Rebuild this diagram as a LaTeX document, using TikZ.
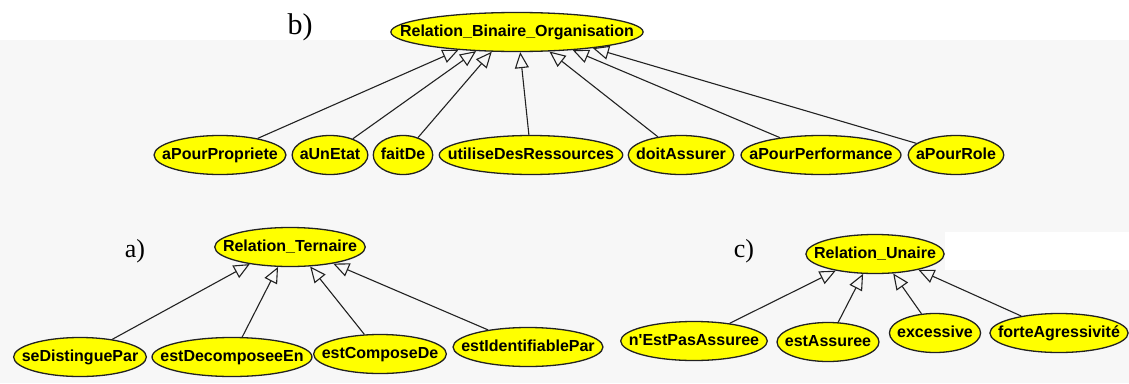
\documentclass[tikz,border=0pt]{standalone}
\usepackage{fontspec}
\setmainfont{Liberation Serif}
\newfontfamily\relfont{Liberation Sans}
\usetikzlibrary{arrows.meta,shapes.geometric}
\definecolor{Paper}{HTML}{F7F7F7}
\definecolor{Rel}{HTML}{FFFF00}
\definecolor{Ink}{HTML}{222222}
% shrink the box so the ellipse hugs the text
\newcommand{\rel}[1]{\makebox[.72\width]{#1}}

\begin{document}
\begin{tikzpicture}[x=1pt,y=-1pt,
    relnode/.style={ellipse,draw=Ink,line width=1.3pt,fill=Rel,inner xsep=5pt,inner ysep=0pt,
      minimum height=39pt,text height=11.5pt,text depth=3.5pt,font=\relfont\bfseries\fontsize{16}{19}\selectfont},
    isa/.style={-{Triangle[open,length=16pt,width=14pt,line width=1.1pt]},line width=1.1pt,Ink},
    tag/.style={font=\fontsize{26}{30}\selectfont}]
  % background
  \fill[Paper] (0,0) rectangle (1129,383);
  \fill[white] (0,0) rectangle (1129,40);
  \fill[white] (945,232) rectangle (1129,270);
  \useasboundingbox (0,0) rectangle (1129,383);

  % b) binary relations
  \node[tag,font=\fontsize{30}{34}\selectfont] (tagb) at (300,27) {b)};
  \node[relnode] (bin) at (517,32) {\rel{Relation\_Binaire\_Organisation}};
  \foreach \name/\x/\txt in {prop/220/aPourPropriete,etat/330/aUnEtat,fait/403/faitDe,
      res/531/utiliseDesRessources,doit/681/doitAssurer,perf/821/aPourPerformance,role/956/aPourRole}
    \node[relnode] (\name) at (\x,155) {\rel{\txt}};
  \foreach \name/\ang in {prop/197,etat/205,fait/218,res/279,doit/329,perf/342,role/348}
    \draw[isa] (\name) -- (bin.\ang);

  % a) ternary relations
  \node[tag] (taga) at (135,251) {a)};
  \node[relnode] (ter) at (290,247) {\rel{Relation\_Ternaire}};
  \node[relnode] (dist) at (80,357) {\rel{seDistinguePar}};
  \node[relnode] (deco) at (232,357) {\rel{estDecomposeeEn}};
  \node[relnode] (comp) at (380,354) {\rel{estComposeDe}};
  \node[relnode] (iden) at (528,347) {\rel{estIdentifiablePar}};
  \foreach \name/\ang in {dist/203,deco/239,comp/316,iden/339}
    \draw[isa] (\name) -- (ter.\ang);

  % c) unary relations
  \node[tag] (tagc) at (744,251) {c)};
  \node[relnode] (una) at (875,254) {\rel{Relation\_Unaire}};
  \node[relnode] (npas) at (694,341) {\rel{n\textquotesingle EstPasAssuree}};
  \node[relnode] (assu) at (828,342) {\rel{estAssuree}};
  \node[relnode] (exce) at (935,333) {\rel{excessive}};
  \node[relnode] (forte) at (1059,333) {\rel{forteAgressivité}};
  \foreach \name/\ang in {npas/203,assu/239,exce/313,forte/340}
    \draw[isa] (\name) -- (una.\ang);
\end{tikzpicture}
\end{document}
